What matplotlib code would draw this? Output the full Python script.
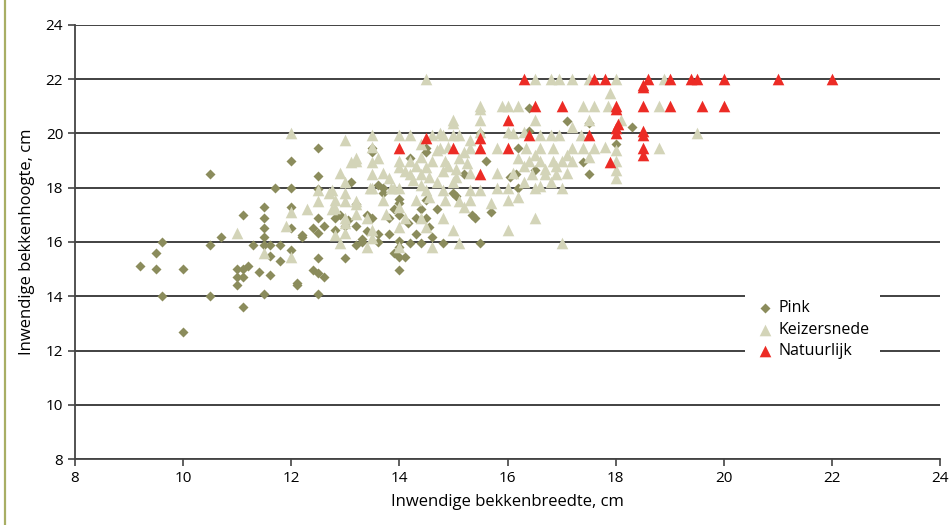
import matplotlib.pyplot as plt
from matplotlib.lines import Line2D

# Pink (diamonds)
pink_x = [9.2, 9.5, 9.6, 9.5, 9.6, 10.0, 10.0, 10.5, 10.5, 10.5, 10.7, 11.1, 11.1, 11.0, 11.1, 11.2,
          11.0, 11.1, 11.0, 11.4, 11.6, 11.5, 11.5, 11.5, 11.5, 11.3, 11.5, 11.6, 11.6, 11.8, 11.8,
          12.0, 12.0, 11.7, 12.0, 12.0, 12.0, 12.2, 11.5, 12.1, 12.1, 12.5, 12.5, 13.1, 12.5, 12.5,
          12.4, 12.5, 12.8, 12.8, 12.6, 13.05, 13.2, 13.3, 13.5, 13.0, 12.5, 12.4, 12.5, 12.6, 12.5,
          14.0, 14.0, 14.0, 13.8, 13.0, 13.3, 13.5, 13.5, 13.6, 13.7, 14.0, 14.0, 14.0, 14.0, 14.1,
          14.15, 14.2, 14.3, 14.4, 14.55, 14.8, 14.5, 14.5, 14.2, 15.0, 15.35, 15.2, 14.5, 13.7, 14.5,
          15.5, 15.05, 15.7, 15.6, 16.05, 16.15, 16.4, 16.2, 17.1, 17.5, 17.4, 17.5, 18.3, 18.0, 16.4,
          15.5, 16.5, 16.2, 15.4, 13.8, 13.9, 13.6, 12.2, 13.2, 13.4,
          13.2, 13.6, 14.3, 14.6, 13.9, 14.4, 12.9, 13.4, 14.7]
pink_y = [15.1, 15.6, 16.0, 15.0, 14.0, 15.0, 12.7, 18.5, 15.9, 14.0, 16.2, 17.0, 13.6, 15.0, 15.0, 15.1,
          14.7, 14.7, 14.4, 14.9, 14.8, 17.3, 16.9, 16.5, 16.2, 15.9, 15.9, 15.9, 15.5, 15.9, 15.3,
          15.7, 18.0, 18.0, 19.0, 17.3, 16.5, 16.2, 14.1, 14.5, 14.4, 19.45, 18.45, 18.2, 17.95, 16.9,
          16.5, 16.35, 16.9, 16.45, 16.6, 16.8, 16.6, 16.0, 16.9, 15.4, 15.4, 14.95, 14.85, 14.7, 14.1,
          17.0, 15.45, 14.95, 16.9, 16.6, 16.1, 19.45, 19.3, 18.1, 17.8, 17.45, 17.6, 16.05, 15.8, 15.45,
          16.7, 15.95, 16.9, 15.95, 16.55, 15.95, 19.45, 19.3, 19.1, 17.8, 17.0, 18.5, 17.55, 18.0, 16.9,
          15.95, 17.7, 17.1, 19.0, 18.4, 18.5, 20.1, 19.45, 20.45, 20.4, 18.95, 18.5, 20.25, 19.6, 20.95,
          20.0, 18.65, 18.0, 16.9, 16.3, 15.6, 16.0, 16.25, 17.4, 17.0,
          15.9, 16.3, 16.3, 16.2, 17.2, 17.2, 17.0, 16.4, 17.2]

# Keizersnede (light triangles)
keizer_x = [11.0, 12.5, 12.5, 12.3, 12.0, 11.9, 11.5, 12.0, 12.0, 13.1, 13.2, 13.5, 13.6, 12.9, 13.5,
            13.7, 13.8, 13.0, 13.5, 12.7, 13.0, 13.9, 13.7, 13.2, 12.8, 13.0, 13.4, 13.0, 12.8, 13.5,
            13.5, 12.9, 13.4, 13.0, 13.5, 13.5, 14.0, 14.2, 14.6, 14.8, 15.0, 15.1, 15.0, 15.5, 15.3,
            14.0, 14.0, 14.2, 14.4, 14.7, 14.5, 14.85, 15.1, 15.25, 15.05, 13.2, 14.2, 14.25, 14.4, 14.55,
            14.8, 15.05, 15.3, 15.0, 14.7, 14.4, 14.0, 13.85, 13.45, 12.75, 14.5, 14.8, 15.3, 12.8, 13.0,
            13.2, 14.3, 14.55, 14.85, 15.1, 15.3, 12.75, 13.2, 13.75, 14.1, 14.4, 14.8, 15.2, 14.0, 13.0,
            14.0, 14.5, 15.0, 14.0, 14.6, 15.1, 14.5, 16.5, 16.8, 16.95, 17.2, 17.5, 18.0, 18.9, 17.9,
            15.5, 15.9, 16.0, 16.2, 17.4, 17.6, 17.85, 18.8, 15.0, 15.5, 16.5, 17.5, 17.2, 18.1, 14.75,
            15.5, 16.0, 16.6, 16.8, 16.95, 17.35, 18.8, 14.75, 15.8, 16.35, 16.6, 16.85, 17.2, 17.4, 17.6,
            17.8, 18.0, 16.4, 16.6, 16.85, 17.0, 17.2, 17.5, 15.8, 16.45, 16.7, 16.9, 17.1, 16.6, 18.0,
            18.0, 17.0, 16.5, 16.0, 15.8, 15.5, 16.0, 16.2, 15.7, 16.5, 16.0, 17.0, 19.5, 16.1, 16.3,
            18.0, 16.2, 16.1,
            14.1, 14.3, 14.6, 14.9, 15.2, 14.4, 14.9, 15.3, 16.3, 16.7, 16.5, 16.9, 17.1, 16.3, 16.8]
keizer_y = [16.35, 17.9, 17.5, 17.2, 17.1, 16.6, 15.6, 15.45, 20.0, 18.95, 19.1, 18.95, 19.1, 18.55, 18.5,
            18.55, 18.35, 18.2, 18.0, 17.8, 17.8, 18.0, 17.55, 17.4, 17.25, 16.9, 16.9, 16.35, 16.25, 16.45,
            16.15, 15.95, 15.8, 19.75, 19.95, 19.5, 19.95, 19.95, 19.95, 19.95, 19.95, 19.95, 20.4, 20.9, 19.75,
            19.0, 18.75, 19.0, 19.15, 19.4, 18.75, 19.0, 19.1, 18.9, 18.7, 19.0, 18.5, 18.3, 18.5, 18.4,
            18.6, 18.4, 18.55, 18.2, 18.2, 18.1, 18.0, 18.0, 18.0, 17.9, 17.9, 17.9, 17.9, 17.55, 17.5,
            17.5, 17.55, 17.65, 17.55, 17.5, 17.55, 17.2, 17.05, 17.05, 16.9, 16.9, 16.9, 17.3, 17.3, 16.7,
            16.55, 16.55, 16.45, 15.8, 15.8, 15.95, 22.0, 22.0, 22.0, 22.0, 22.0, 22.0, 22.0, 22.0, 21.5,
            21.0, 21.0, 21.0, 21.0, 21.0, 21.0, 21.0, 21.0, 20.5, 20.5, 20.5, 20.5, 20.25, 20.5, 20.0,
            20.05, 20.05, 19.95, 19.95, 19.95, 19.95, 19.45, 19.45, 19.45, 19.45, 19.45, 19.45, 19.45, 19.45, 19.45,
            19.5, 19.4, 19.0, 19.0, 19.0, 19.0, 19.0, 19.15, 18.55, 18.5, 18.5, 18.5, 18.55, 18.05, 18.65,
            18.35, 18.0, 18.0, 18.0, 18.0, 17.9, 17.55, 17.65, 17.45, 16.9, 16.45, 15.95, 20.0, 20.0, 20.05,
            19.0, 19.1, 18.55,
            18.6, 18.8, 19.0, 18.8, 19.3, 19.6, 19.5, 19.45, 18.8, 18.7, 19.2, 18.8, 19.2, 18.2, 18.2]

# Natuurlijk (red triangles)
natuur_x = [16.3, 17.6, 17.8, 18.6, 18.5, 18.5, 19.0, 19.4, 19.5, 20.0, 21.0, 22.0, 18.0, 18.0, 18.5,
            19.0, 19.6, 20.0, 16.5, 17.0, 16.0, 16.4, 17.5, 18.0, 18.0, 18.05, 18.5, 18.5, 18.5, 18.5,
            17.9, 15.5, 15.5, 16.0, 15.5, 14.5, 14.0, 15.0]
natuur_y = [22.0, 22.0, 22.0, 22.0, 21.8, 21.7, 22.0, 22.0, 22.0, 22.0, 22.0, 22.0, 21.0, 20.9, 21.0,
            21.0, 21.0, 21.0, 21.0, 21.0, 20.5, 19.95, 19.95, 20.2, 20.0, 20.35, 20.1, 19.95, 19.45, 19.2,
            18.95, 19.85, 19.45, 19.45, 18.5, 19.85, 19.45, 19.45]

plt.rcParams['font.family'] = ['Open Sans', 'DejaVu Sans']

fig = plt.figure(figsize=(9.53, 5.25), dpi=100)
ax = fig.add_axes([0.0787, 0.1257, 0.9077, 0.8267])

# page border line on the left
fig.add_artist(Line2D([0.0055, 0.0055], [0, 1], color='#a8ae64', lw=1.6, transform=fig.transFigure))

ax.scatter(pink_x, pink_y, marker='D', s=26, color='#8b8c5c', linewidths=0, label='Pink', zorder=3)
ax.scatter(keizer_x, keizer_y, marker='^', s=70, color='#d3d4b8', linewidths=0, label='Keizersnede', zorder=4)
ax.scatter(natuur_x, natuur_y, marker='^', s=70, color='#ec2b25', linewidths=0, label='Natuurlijk', zorder=5)

ax.set_xlim(8, 24)
ax.set_ylim(8, 24)
ax.set_xticks(range(8, 25, 2))
ax.set_yticks(range(8, 25, 2))
ax.yaxis.grid(True, color='#333333', lw=1.3)
ax.set_axisbelow(True)
for s in ['top', 'right']:
    ax.spines[s].set_visible(False)
for s in ['left', 'bottom']:
    ax.spines[s].set_color('#444444')
    ax.spines[s].set_linewidth(1.3)
ax.tick_params(direction='out', length=5, width=1.2, color='#444444', labelsize=11)

ax.set_xlabel('Inwendige bekkenbreedte, cm', fontsize=12, labelpad=6)
ax.set_ylabel('Inwendige bekkenhoogte, cm', fontsize=12, labelpad=8)

leg = ax.legend(loc='upper left', bbox_to_anchor=(0.775, 0.388), frameon=True, fontsize=11.5,
                handletextpad=0.3, labelspacing=0.35, borderpad=0.6, handlelength=1.2, borderaxespad=0)
leg.get_frame().set_facecolor('white')
leg.get_frame().set_edgecolor('none')
leg.get_frame().set_alpha(1)
leg.set_zorder(10)

fig.savefig('out.png', dpi=100)
